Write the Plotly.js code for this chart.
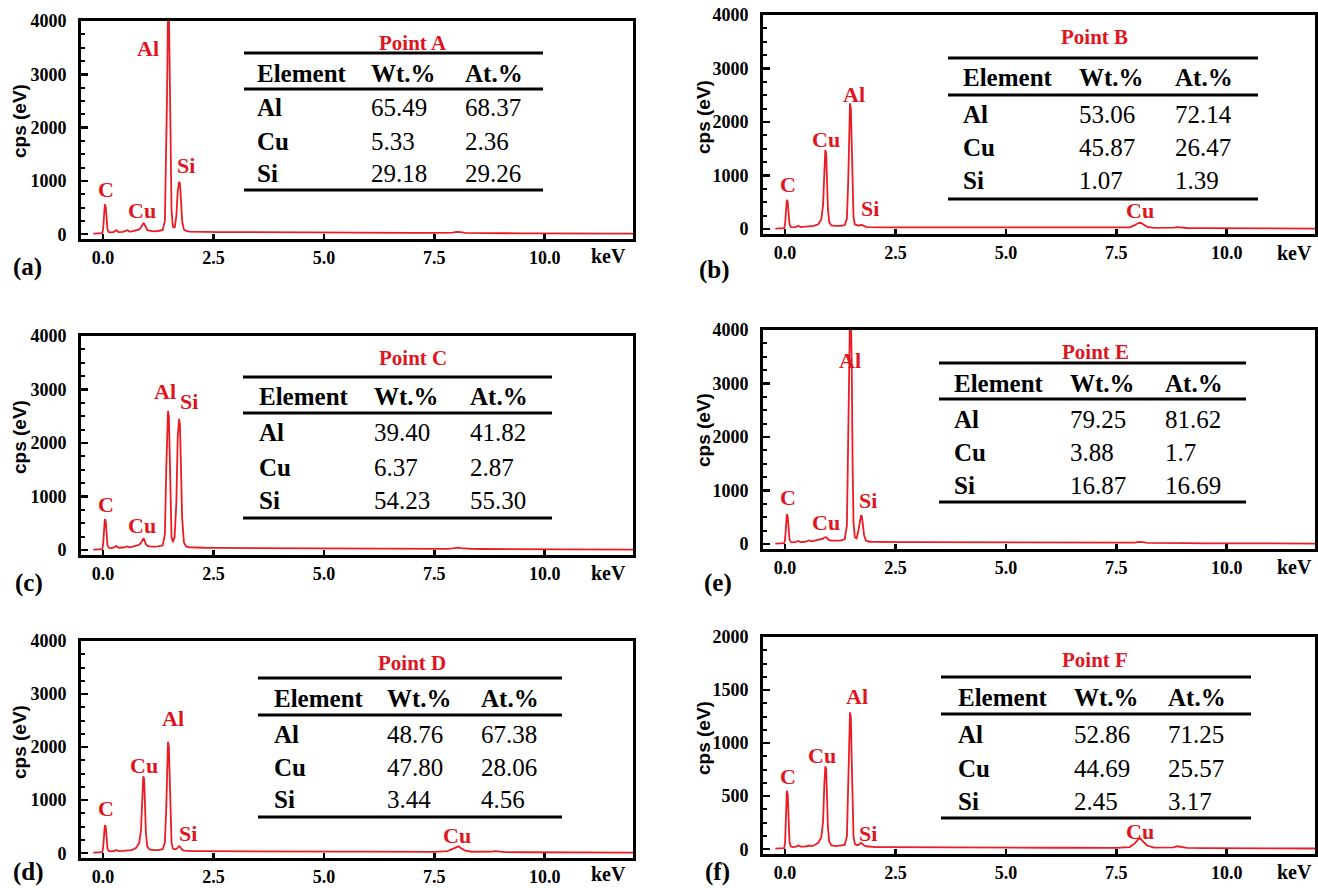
<!DOCTYPE html>
<html>
<head>
<meta charset="utf-8">
<script src="https://cdn.plot.ly/plotly-3.0.1.min.js"></script>
<style>html,body{margin:0;padding:0;background:#fff;}#chart{width:1318px;height:888px;}</style>
</head>
<body>
<div id="chart"></div>
<script>
// ---------------- DATA ----------------
const energy = [-0.22, -0.1, -0.02, 0.0,
  0.02, 0.04, 0.06, 0.08, 0.10,
  0.13, 0.18, 0.25, 0.30, 0.35,
  0.45, 0.55, 0.60, 0.65, 0.75,
  0.82, 0.86, 0.89, 0.91, 0.93,
  0.95, 0.97, 1.00, 1.05, 1.15,
  1.25, 1.35, 1.40, 1.43, 1.45,
  1.47, 1.49, 1.51, 1.53, 1.55,
  1.58, 1.62, 1.66, 1.69, 1.72,
  1.74, 1.76, 1.79, 1.83, 1.88,
  1.95, 2.05, 2.30, 2.60, 3.00,
  3.50, 4.00, 4.50, 5.00, 5.50,
  6.00, 6.50, 7.00, 7.50, 7.80,
  7.92, 8.00, 8.05, 8.10, 8.20,
  8.35, 8.60, 8.80, 8.88, 8.96,
  9.10, 9.50, 10.0, 10.5, 11.0,
  11.5, 12.0];

const countsA = [10, 12, 20, 90,
  330, 560, 520, 250, 90,
  40, 35, 45, 75, 40,
  45, 75, 50, 55, 70,
  90, 130, 180, 205, 200,
  160, 110, 80, 65, 55,
  60, 80, 250, 1550, 2700,
  4200, 4200, 3000, 1300, 450,
  150, 120, 350, 800, 980,
  960, 700, 250, 90, 60,
  50, 45, 42, 40, 40,
  40, 38, 36, 34, 32,
  30, 28, 26, 25, 25,
  30, 45, 48, 40, 25,
  22, 20, 20, 24, 22,
  18, 16, 15, 14, 13,
  12, 12];

const countsB = [10, 12, 20, 90,
  320, 550, 510, 240, 90,
  40, 35, 45, 65, 40,
  45, 60, 50, 60, 90,
  180, 450, 1150, 1480, 1420,
  950, 380, 130, 70, 60,
  60, 75, 200, 900, 1700,
  2350, 2250, 1500, 650, 220,
  90, 70, 65, 75, 85,
  80, 70, 55, 45, 40,
  38, 36, 35, 34, 33,
  32, 32, 30, 30, 28,
  27, 26, 25, 25, 35,
  75, 115, 120, 95, 45,
  25, 22, 30, 40, 35,
  22, 18, 16, 15, 14,
  13, 12];

const countsC = [10, 12, 20, 100,
  350, 580, 540, 260, 90,
  45, 40, 50, 80, 45,
  50, 70, 55, 60, 80,
  100, 140, 190, 215, 205,
  160, 110, 85, 70, 65,
  70, 90, 300, 1500, 2300,
  2600, 2500, 1800, 700, 250,
  150, 250, 900, 2100, 2450,
  2350, 1700, 600, 150, 70,
  55, 50, 45, 42, 40,
  40, 40, 38, 36, 34,
  32, 30, 28, 26, 26,
  32, 45, 48, 40, 28,
  24, 22, 22, 25, 23,
  20, 18, 16, 15, 14,
  13, 12];

const countsD = [10, 12, 20, 90,
  300, 530, 500, 230, 85,
  40, 35, 40, 60, 40,
  45, 55, 50, 60, 100,
  200, 450, 1100, 1450, 1400,
  950, 380, 130, 70, 60,
  60, 75, 200, 850, 1500,
  2100, 2000, 1350, 600, 200,
  90, 75, 80, 110, 135,
  125, 95, 65, 50, 45,
  42, 40, 38, 36, 35,
  34, 33, 32, 31, 30,
  29, 28, 27, 26, 40,
  85, 125, 130, 100, 50,
  28, 24, 30, 38, 34,
  22, 18, 16, 15, 14,
  13, 12];

const countsE = [10, 12, 20, 90,
  320, 560, 520, 250, 90,
  40, 35, 45, 60, 40,
  45, 70, 55, 60, 75,
  85, 105, 125, 135, 130,
  110, 90, 75, 65, 60,
  65, 90, 350, 2000, 3500,
  4300, 4300, 3300, 1400, 400,
  130, 110, 250, 450, 540,
  520, 380, 160, 70, 50,
  45, 42, 40, 38, 38,
  38, 36, 35, 33, 31,
  30, 28, 26, 25, 25,
  30, 42, 45, 38, 25,
  22, 20, 20, 23, 21,
  18, 16, 15, 14, 13,
  12, 12];

const countsF = [5, 6, 10, 60,
  300, 550, 520, 240, 70,
  25, 20, 25, 35, 25,
  25, 35, 30, 35, 60,
  110, 260, 620, 780, 760,
  520, 210, 70, 35, 30,
  32, 40, 120, 500, 950,
  1290, 1240, 820, 350, 120,
  50, 40, 40, 50, 60,
  55, 45, 35, 28, 25,
  22, 20, 19, 18, 17,
  17, 16, 16, 15, 15,
  14, 14, 13, 13, 20,
  55, 95, 100, 75, 35,
  15, 13, 18, 28, 24,
  13, 11, 10, 9, 8,
  8, 7];

const tableHeaders = ['Element', 'Wt.%', 'At.%'];
const elements = ['Al', 'Cu', 'Si'];
const wtA = ['65.49', '5.33', '29.18'];  const atA = ['68.37', '2.36', '29.26'];
const wtB = ['53.06', '45.87', '1.07'];  const atB = ['72.14', '26.47', '1.39'];
const wtC = ['39.40', '6.37', '54.23'];  const atC = ['41.82', '2.87', '55.30'];
const wtD = ['48.76', '47.80', '3.44'];  const atD = ['67.38', '28.06', '4.56'];
const wtE = ['79.25', '3.88', '16.87'];  const atE = ['81.62', '1.7', '16.69'];
const wtF = ['52.86', '44.69', '2.45'];  const atF = ['71.25', '25.57', '3.17'];

const xTickVals = [0, 2.5, 5, 7.5, 10];
const xTickText = ['0.0', '2.5', '5.0', '7.5', '10.0'];
const yTicks4000 = [0, 1000, 2000, 3000, 4000];
const yTicks2000 = [0, 500, 1000, 1500, 2000];

// ---------------- LAYOUT CONFIG ----------------
const W = 1318, H = 888;
const PX = p => p / W;
const PY = p => 1 - p / H;
const RED_LINE = 'rgb(236,28,36)';
const RED_TEXT = 'rgb(222,22,34)';
const SERIF = 'Liberation Serif, Times New Roman, serif';
const SANS = 'Liberation Sans, Arial, sans-serif';

const panels = [
  { counts: countsA, wt: wtA, at: atA, point: 'Point A', letter: '(a)', yTicks: yTicks4000, yMax: 4000, minor: 250,
    frame: [81, 633, 21, 239], letterPos: [27, 267], kevPos: [608, 256], ytPos: [19, 121],
    tbl: { title: [413, 43], lines: [53, 89, 190], lx: [244, 543], header: 73, rows: [108, 141, 173], cols: [255, 369, 463] },
    peaks: [['C', 106, 189], ['Cu', 142, 210], ['Al', 148, 48], ['Si', 186, 166]] },
  { counts: countsB, wt: wtB, at: atB, point: 'Point B', letter: '(b)', yTicks: yTicks4000, yMax: 4000, minor: 250,
    frame: [763, 1315, 15, 234], letterPos: [715, 270], kevPos: [1294, 253], ytPos: [703, 117],
    tbl: { title: [1094, 37], lines: [58, 95, 199], lx: [948, 1258], header: 78, rows: [115, 148, 181], cols: [961, 1077, 1173] },
    peaks: [['C', 788, 184], ['Cu', 826, 139], ['Al', 854, 94], ['Si', 870, 209], ['Cu', 1140, 211]] },
  { counts: countsC, wt: wtC, at: atC, point: 'Point C', letter: '(c)', yTicks: yTicks4000, yMax: 4000, minor: 250,
    frame: [81, 633, 336, 555], letterPos: [29, 583], kevPos: [608, 573], ytPos: [19, 437],
    tbl: { title: [413, 358], lines: [377, 413, 518], lx: [243, 552], header: 397, rows: [433, 467, 500], cols: [257, 372, 468] },
    peaks: [['C', 106, 504], ['Cu', 142, 525], ['Al', 165, 392], ['Si', 189, 401]] },
  { counts: countsE, wt: wtE, at: atE, point: 'Point E', letter: '(e)', yTicks: yTicks4000, yMax: 4000, minor: 250,
    frame: [763, 1315, 330, 549], letterPos: [718, 583], kevPos: [1294, 567], ytPos: [703, 430],
    tbl: { title: [1095, 352], lines: [363, 399, 502], lx: [939, 1246], header: 383, rows: [419, 453, 486], cols: [952, 1068, 1163] },
    peaks: [['C', 788, 497], ['Cu', 826, 522], ['Al', 850, 360], ['Si', 868, 501]] },
  { counts: countsD, wt: wtD, at: atD, point: 'Point D', letter: '(d)', yTicks: yTicks4000, yMax: 4000, minor: 250,
    frame: [81, 633, 641, 858], letterPos: [28, 872], kevPos: [608, 874], ytPos: [19, 742],
    tbl: { title: [412, 663], lines: [678, 715, 817], lx: [258, 562], header: 698, rows: [734, 767, 799], cols: [272, 385, 479] },
    peaks: [['C', 106, 808], ['Cu', 144, 765], ['Al', 173, 718], ['Si', 188, 833], ['Cu', 457, 835]] },
  { counts: countsF, wt: wtF, at: atF, point: 'Point F', letter: '(f)', yTicks: yTicks2000, yMax: 2000, minor: 125,
    frame: [763, 1315, 637, 854], letterPos: [718, 872], kevPos: [1294, 872], ytPos: [703, 738],
    tbl: { title: [1095, 660], lines: [677, 714, 818], lx: [941, 1251], header: 697, rows: [734, 768, 801], cols: [956, 1072, 1166] },
    peaks: [['C', 788, 776], ['Cu', 822, 755], ['Al', 857, 696], ['Si', 868, 833], ['Cu', 1140, 831]] }
];

const data = [];
const layout = {
  width: W, height: H,
  margin: { l: 0, r: 0, t: 0, b: 0, pad: 0 },
  paper_bgcolor: '#ffffff', plot_bgcolor: '#ffffff',
  showlegend: false,
  annotations: [], shapes: []
};

function ann(text, x, y, opts) {
  layout.annotations.push(Object.assign({
    text: text, x: PX(x), y: PY(y), xref: 'paper', yref: 'paper',
    showarrow: false, xanchor: 'center', yanchor: 'middle',
    font: { family: SERIF, size: 20, color: '#000' }
  }, opts || {}));
}

panels.forEach((p, i) => {
  const n = i === 0 ? '' : String(i + 1);
  const [l, r, t, b] = p.frame;
  data.push({
    type: 'scatter', mode: 'lines', x: energy, y: p.counts,
    xaxis: 'x' + n, yaxis: 'y' + n,
    line: { color: RED_LINE, width: 1.8 }, hoverinfo: 'skip'
  });
  layout['xaxis' + n] = {
    domain: [PX(l), PX(r)], anchor: 'y' + n, range: [-0.5, 12.0],
    showgrid: false, zeroline: false, showline: true, mirror: true,
    linecolor: '#000', linewidth: 3,
    ticks: 'inside', ticklen: 5, tickwidth: 2.5, tickcolor: '#000',
    tickmode: 'array', tickvals: xTickVals, ticktext: xTickText,
    ticklabelstandoff: 0,
    tickfont: { family: SERIF, size: 18, color: '#000', weight: 'bold' },
    fixedrange: true
  };
  const ymin = -p.yMax * 0.0225;
  layout['yaxis' + n] = {
    domain: [PY(b), PY(t)], anchor: 'x' + n, range: [ymin, p.yMax],
    showgrid: false, zeroline: false, showline: true, mirror: true,
    linecolor: '#000', linewidth: 3,
    ticks: 'inside', ticklen: 7, tickwidth: 2.5, tickcolor: '#000',
    tickmode: 'array', tickvals: p.yTicks,
    minor: { ticks: 'inside', ticklen: 4, tickwidth: 2, tickcolor: '#000', dtick: p.minor, tick0: 0 },
    ticklabelstandoff: 8,
    tickfont: { family: SERIF, size: 18, color: '#000', weight: 'bold' },
    fixedrange: true
  };
  // axis titles / labels
  ann('cps (eV)', p.ytPos[0], p.ytPos[1], { textangle: -90, font: { family: SANS, size: 19, color: '#000', weight: 'bold' } });
  ann('keV', p.kevPos[0], p.kevPos[1], { font: { family: SERIF, size: 20, color: '#000', weight: 'bold' } });
  ann(p.letter, p.letterPos[0], p.letterPos[1], { font: { family: SERIF, size: 25, color: '#000', weight: 'bold' } });
  // peak labels
  p.peaks.forEach(pk => ann(pk[0], pk[1], pk[2], { font: { family: SERIF, size: 22, color: RED_TEXT, weight: 'bold' } }));
  // inset table
  const T = p.tbl;
  ann(p.point, T.title[0], T.title[1], { font: { family: SERIF, size: 21, color: RED_TEXT, weight: 'bold' } });
  T.lines.forEach(ly => layout.shapes.push({
    type: 'line', xref: 'paper', yref: 'paper', x0: PX(T.lx[0]), x1: PX(T.lx[1]), y0: PY(ly), y1: PY(ly),
    line: { color: '#000', width: 3 }
  }));
  tableHeaders.forEach((h, c) => ann(h, T.cols[c], T.header, { xanchor: 'left', font: { family: SERIF, size: 25, color: '#000', weight: 'bold' } }));
  elements.forEach((el, rIdx) => {
    const y = T.rows[rIdx];
    ann(el, T.cols[0], y, { xanchor: 'left', font: { family: SERIF, size: 25, color: '#000', weight: 'bold' } });
    ann(p.wt[rIdx], T.cols[1], y, { xanchor: 'left', font: { family: SERIF, size: 25, color: '#000' } });
    ann(p.at[rIdx], T.cols[2], y, { xanchor: 'left', font: { family: SERIF, size: 25, color: '#000' } });
  });
});

Plotly.newPlot('chart', data, layout, { staticPlot: true, displayModeBar: false });
</script>
</body>
</html>
